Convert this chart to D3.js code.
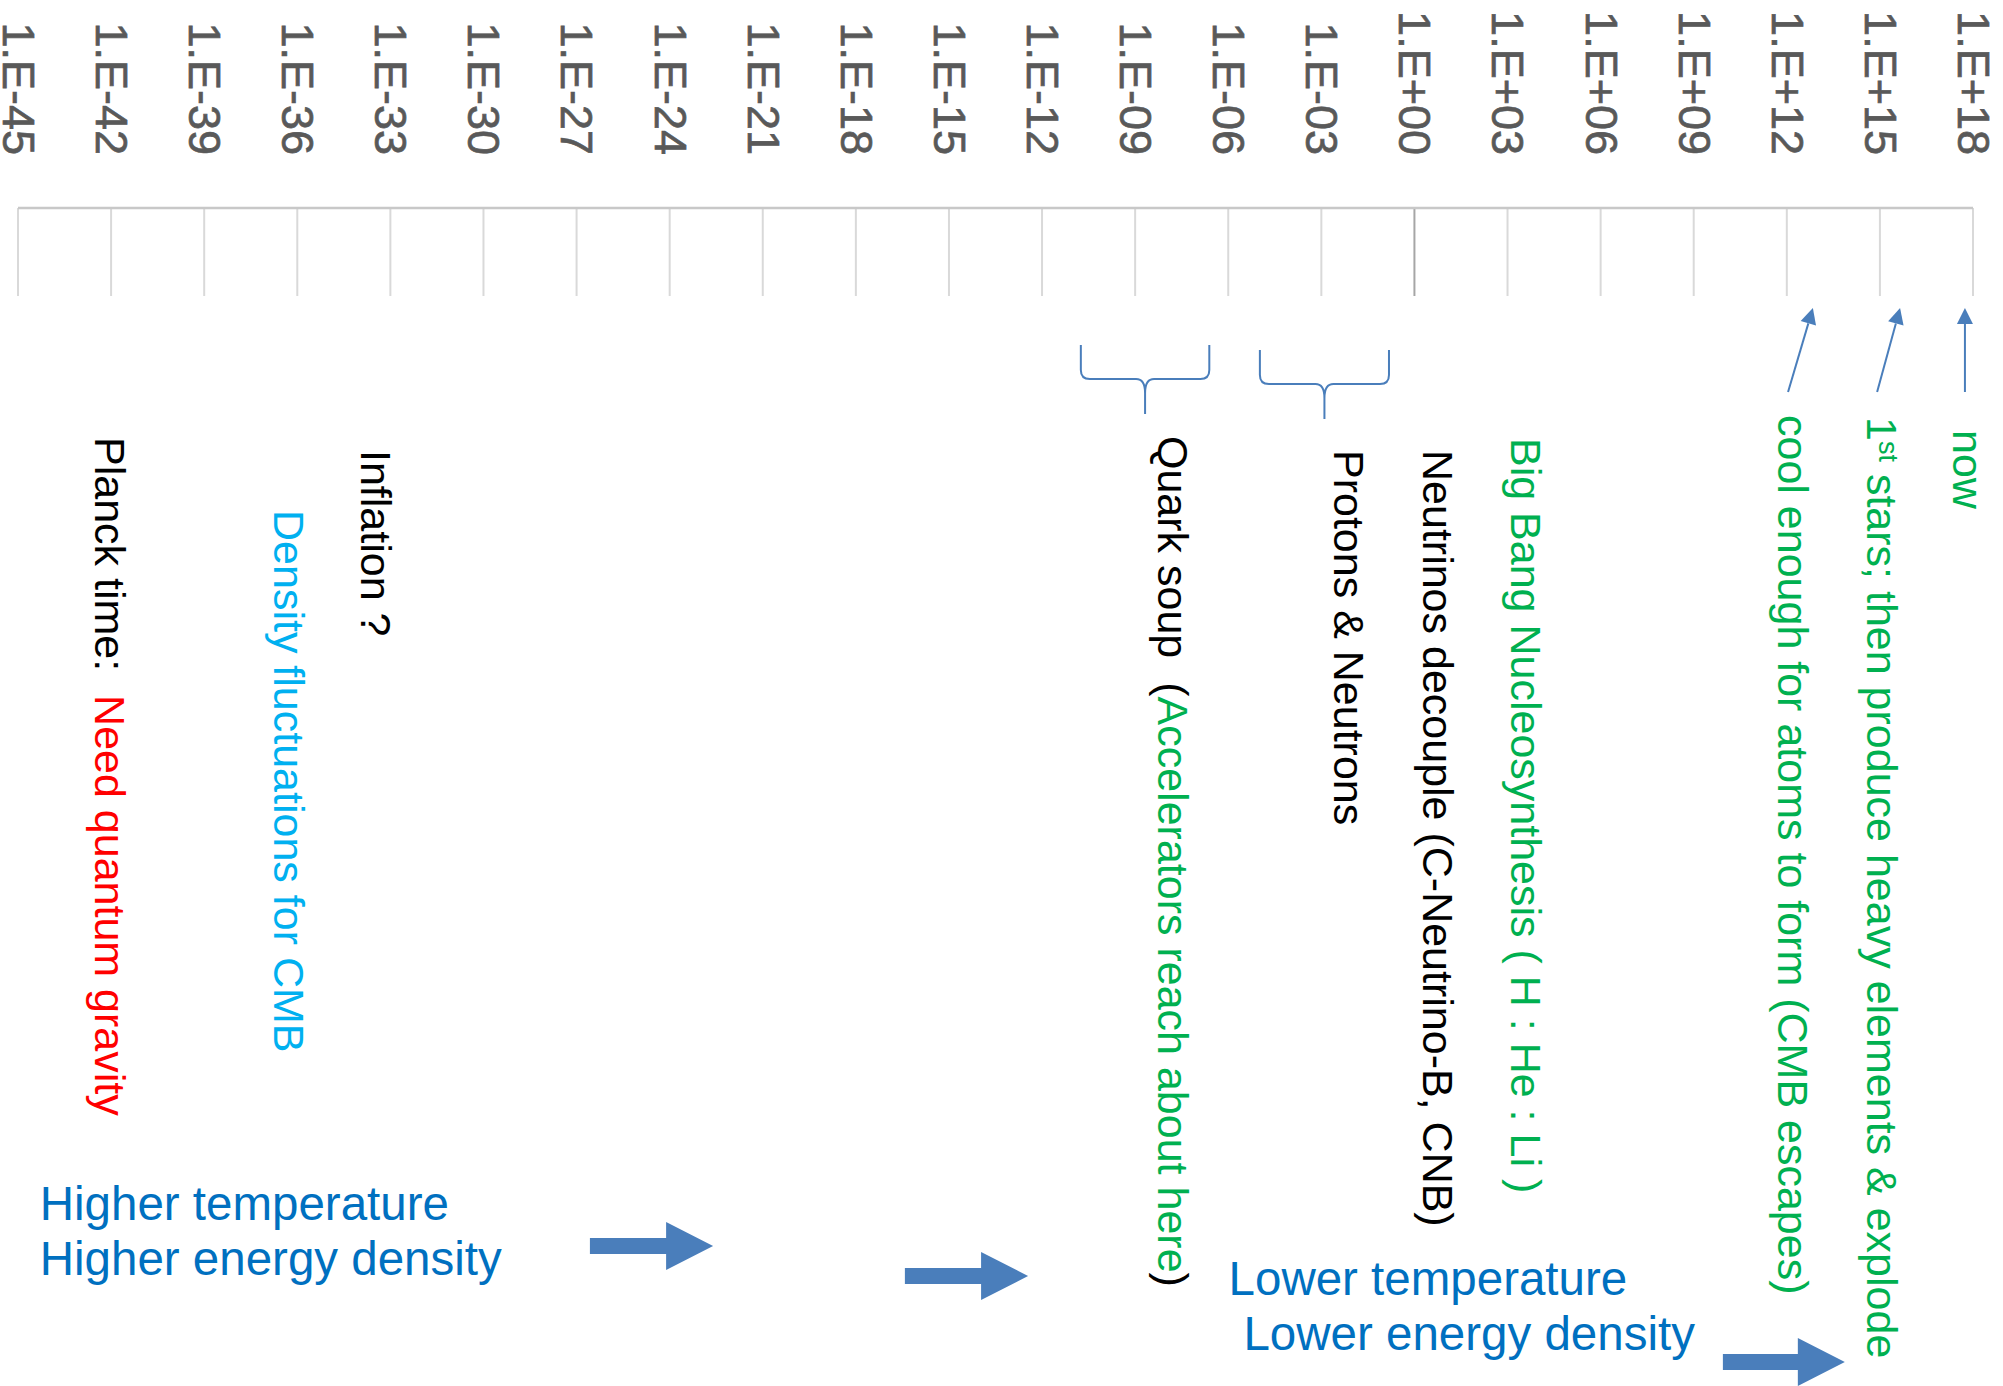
<!DOCTYPE html>
<html><head><meta charset="utf-8">
<script src="https://cdn.jsdelivr.net/npm/d3@7"></script>
<style>
html,body{margin:0;padding:0;background:#fff;}
svg{display:block;}
text{font-family:"Liberation Sans", Arial, Helvetica, sans-serif; white-space:pre;}
</style></head><body>
<svg id="chart" width="2003" height="1386"></svg>
<script>
// ---------------- data ----------------
const tickValues = [-45,-42,-39,-36,-33,-30,-27,-24,-21,-18,-15,-12,-9,-6,-3,0,3,6,9,12,15,18];
const tickLabels = ["1.E-45","1.E-42","1.E-39","1.E-36","1.E-33","1.E-30","1.E-27","1.E-24","1.E-21","1.E-18","1.E-15","1.E-12","1.E-09","1.E-06","1.E-03","1.E+00","1.E+03","1.E+06","1.E+09","1.E+12","1.E+15","1.E+18"];

// events placed along the log10(time / s) axis
const eventNames   = ["planck","density","inflation","quark","protons","neutrinos","bbn","cmb","stars","now"];
const eventLogTime = [-42.02, -36.27, -33.44, -7.76, -2.08, 0.78, 3.61, 12.21, 15.07, 17.85];
const eventTexts = [
  ["Planck time:  ", "Need quantum gravity"],
  ["Density fluctuations for CMB"],
  ["Inflation ?"],
  ["Quark soup  (", "Accelerators reach about here", ")"],
  ["Protons & Neutrons"],
  ["Neutrinos decouple (C-Neutrino-B, CNB)"],
  ["Big Bang Nucleosynthesis ( H : He : Li )"],
  ["cool enough for atoms to form (CMB escapes)"],
  ["1", "st", " stars; then produce heavy elements & explode"],
  ["now"]
];

// era braces (log10 time range)
const braceNames = ["quark","protons"];
const braceFrom  = [-10.75, -4.98];
const braceTo    = [-6.61, -0.82];

// pointer arrows (log10 time of tail and tip)
const pointerNames       = ["cmb","stars","now"];
const pointerFromLogTime = [12.04, 14.91, 17.74];
const pointerToLogTime   = [12.84, 15.65, 17.74];

// block arrows showing direction of time (log10 time of tail and tip)
const flowArrowFrom = [-26.57, -16.42, 9.94];
const flowArrowTo   = [-22.60, -12.45, 13.87];

const flowLabels = [
  ["Higher temperature", "Higher energy density"],
  ["Lower temperature", "Lower energy density"]
];
const flowLabelLogTime = [[-44.30, -44.30], [-5.99, -5.51]];

// ---------------- styles & layout ----------------
const BLACK = "#000000", RED = "#ff0000", GREEN = "#00b050", CYAN = "#00b0f0",
      TEXTBLUE = "#0070c0", SHAPEBLUE = "#4a7ebb", GRID = "#d9d9d9", TICKTXT = "#595959";

const eventColors = {
  planck: [BLACK, RED], density: [CYAN], inflation: [BLACK],
  quark: [BLACK, GREEN, BLACK], protons: [BLACK], neutrinos: [BLACK],
  bbn: [GREEN], cmb: [GREEN], stars: [GREEN, GREEN, GREEN], now: [GREEN]
};
const eventTop = {planck:437, density:510, inflation:450, quark:436, protons:450,
  neutrinos:450, bbn:438, cmb:415, stars:417, now:430};
const superscriptSegments = {stars: 1};

const W = 2003, H = 1386;
const FS = 43;                 // rotated annotation font size
const plotTop = 208, plotBottom = 296;

const svg = d3.select("#chart");
svg.append("rect").attr("width", W).attr("height", H).attr("fill", "#fff");

const x = d3.scaleLinear().domain([-45, 18]).range([18, 1973]);

// ---- grid / axis ----
const grid = svg.append("g");
grid.selectAll("line.v").data(tickValues).join("line")
  .attr("class","v")
  .attr("x1", d => x(d)).attr("x2", d => x(d))
  .attr("y1", plotTop).attr("y2", plotBottom)
  .attr("stroke", d => d === 0 ? "#a6a6a6" : GRID)
  .attr("stroke-width", 2);
grid.append("line")
  .attr("x1", x(-45)).attr("x2", x(18))
  .attr("y1", plotTop).attr("y2", plotTop)
  .attr("stroke", "#c8c8c8").attr("stroke-width", 2.5);

svg.append("g").selectAll("text").data(tickValues).join("text")
  .attr("transform", d => `translate(${x(d) - 0.358*45 + 1},155) rotate(90)`)
  .attr("text-anchor", "end")
  .attr("font-size", 45)
  .attr("fill", TICKTXT)
  .attr("stroke", TICKTXT)
  .attr("stroke-width", 0.7)
  .text((d, i) => tickLabels[i]);

// ---- rotated event labels ----
const ev = svg.append("g");
eventNames.forEach((name, i) => {
  const cx = x(eventLogTime[i]);
  const t = ev.append("text")
    .attr("transform", `translate(${cx - 0.358*FS},${eventTop[name]}) rotate(90)`)
    .attr("font-size", FS);
  const sup = superscriptSegments[name];
  eventTexts[i].forEach((seg, j) => {
    const ts = t.append("tspan").attr("fill", eventColors[name][j]).text(seg);
    if (sup === j) ts.attr("font-size", 27).attr("dy", -12);
    else if (sup !== undefined && j === sup + 1) ts.attr("dy", 12);
  });
});

// ---- braces ----
const braceY = {quark:{top:345, mid:379, tip:414}, protons:{top:350, mid:384, tip:419}};
braceNames.forEach((name, i) => {
  const x0 = x(braceFrom[i]), x1 = x(braceTo[i]), xm = (x0 + x1) / 2;
  const b = braceY[name];
  const r = 9;
  const p = d3.path();
  p.moveTo(x0, b.top);
  p.lineTo(x0, b.mid - r);
  p.quadraticCurveTo(x0, b.mid, x0 + r, b.mid);
  p.lineTo(xm - r, b.mid);
  p.quadraticCurveTo(xm, b.mid, xm, b.mid + 14);
  p.lineTo(xm, b.tip);
  p.moveTo(xm, b.mid + 14);
  p.quadraticCurveTo(xm, b.mid, xm + r, b.mid);
  p.lineTo(x1 - r, b.mid);
  p.quadraticCurveTo(x1, b.mid, x1, b.mid - r);
  p.lineTo(x1, b.top);
  svg.append("path").attr("d", p.toString())
    .attr("fill", "none").attr("stroke", SHAPEBLUE).attr("stroke-width", 2);
});

// ---- pointer arrows ----
const pointerTailY = 392, pointerTipY = 308, headLen = 16, headHalf = 8;
pointerNames.forEach((name, i) => {
  const x0 = x(pointerFromLogTime[i]), x1 = x(pointerToLogTime[i]);
  const dx = x1 - x0, dy = pointerTipY - pointerTailY;
  const L = Math.hypot(dx, dy), ux = dx / L, uy = dy / L;
  const bx = x1 - ux * headLen, by = pointerTipY - uy * headLen;
  svg.append("line").attr("x1", x0).attr("y1", pointerTailY).attr("x2", bx).attr("y2", by)
    .attr("stroke", SHAPEBLUE).attr("stroke-width", 2);
  svg.append("polygon")
    .attr("points", [[x1, pointerTipY], [bx - uy * headHalf, by + ux * headHalf], [bx + uy * headHalf, by - ux * headHalf]].map(p => p.join(",")).join(" "))
    .attr("fill", SHAPEBLUE);
});

// ---- block arrows ----
const flowArrowY = [1246, 1276, 1362];
flowArrowFrom.forEach((f, i) => {
  const x0 = x(f), x2 = x(flowArrowTo[i]), cy = flowArrowY[i];
  const head = 47, sh = 8, hh = 24, x1 = x2 - head;
  svg.append("polygon")
    .attr("points", [[x0, cy - sh], [x1, cy - sh], [x1, cy - hh], [x2, cy], [x1, cy + hh], [x1, cy + sh], [x0, cy + sh]].map(p => p.join(",")).join(" "))
    .attr("fill", SHAPEBLUE);
});

// ---- direction labels ----
const flowLabelBaselines = [[1220, 1275], [1295, 1350]];
flowLabels.forEach((lines, i) => {
  lines.forEach((line, j) => {
    svg.append("text")
      .attr("x", x(flowLabelLogTime[i][j]))
      .attr("y", flowLabelBaselines[i][j])
      .attr("font-size", 47.5)
      .attr("fill", TEXTBLUE)
      .text(line);
  });
});
</script>
</body></html>
